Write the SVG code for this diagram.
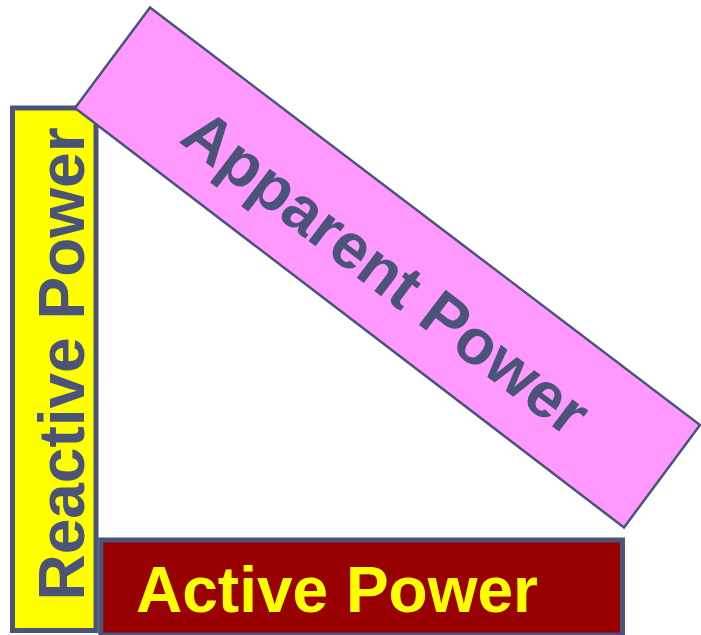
<svg xmlns="http://www.w3.org/2000/svg" width="701" height="635" viewBox="0 0 701 635">
<style>
.lbl{font-family:"Liberation Sans",Arial,sans-serif;font-weight:bold;font-size:64px;text-anchor:middle}
.dark{fill:#4b5478}
.bar{stroke:#4b5478;stroke-width:5;stroke-linejoin:miter}
</style>
<rect width="701" height="635" fill="#ffffff"/>
<g id="reactive">
<rect class="bar" x="12.5" y="108" width="83.5" height="522.5" fill="#ffff00"/>
<text class="lbl dark" transform="translate(83.5,364) rotate(-90)">Reactive Power</text>
</g>
<g id="active">
<rect class="bar" x="100.8" y="540" width="521.7" height="95" fill="#990000"/>
<text class="lbl" fill="#ffff00" x="337" y="612">Active Power</text>
</g>
<g id="apparent">
<polygon points="150,7.5 700,425 624,527.5 75,108" fill="#ff99ff" stroke="#4b5478" stroke-width="2.5" stroke-linejoin="miter"/>
<text class="lbl dark" transform="translate(373,290) rotate(37.3)">Apparent Power</text>
</g>
<g id="connectors"/>
</svg>
